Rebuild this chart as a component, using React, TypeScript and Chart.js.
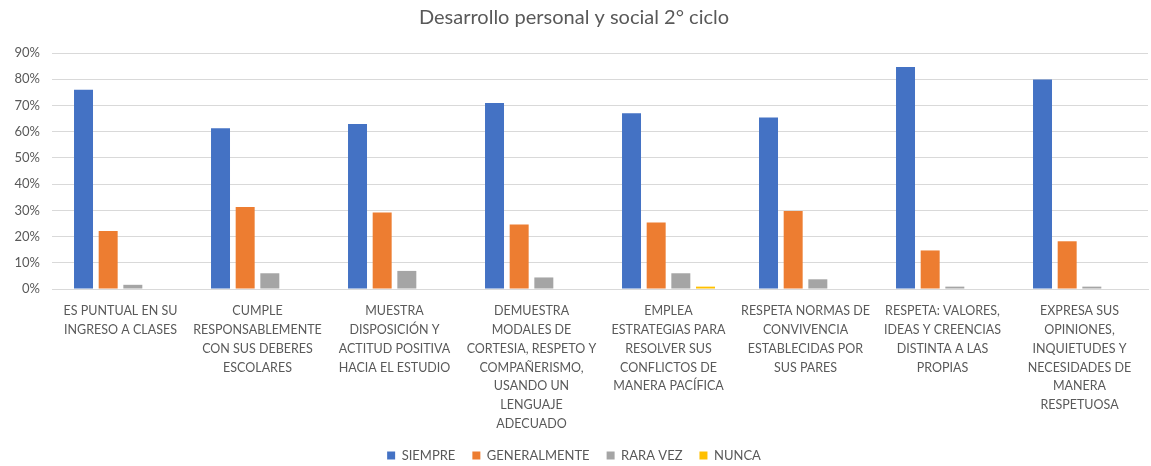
import React, { useEffect, useRef } from "react";
import { Chart, registerables } from "chart.js";

Chart.register(...registerables);

const title = "Desarrollo personal y social 2° ciclo";

const categories: string[][] = [
  ["ES PUNTUAL EN SU", "INGRESO A CLASES"],
  ["CUMPLE", "RESPONSABLEMENTE", "CON SUS DEBERES", "ESCOLARES"],
  ["MUESTRA", "DISPOSICIÓN Y", "ACTITUD POSITIVA", "HACIA EL ESTUDIO"],
  ["DEMUESTRA", "MODALES DE", "CORTESIA, RESPETO Y", "COMPAÑERISMO,", "USANDO UN", "LENGUAJE", "ADECUADO"],
  ["EMPLEA", "ESTRATEGIAS PARA", "RESOLVER SUS", "CONFLICTOS DE", "MANERA PACÍFICA"],
  ["RESPETA NORMAS DE", "CONVIVENCIA", "ESTABLECIDAS POR", "SUS PARES"],
  ["RESPETA: VALORES,", "IDEAS Y CREENCIAS", "DISTINTA A LAS", "PROPIAS"],
  ["EXPRESA SUS", "OPINIONES,", "INQUIETUDES Y", "NECESIDADES DE", "MANERA", "RESPETUOSA"],
];

const siempre = [0.76, 0.613, 0.629, 0.709, 0.67, 0.654, 0.847, 0.799];
const generalmente = [0.221, 0.313, 0.292, 0.246, 0.254, 0.297, 0.147, 0.182];
const raraVez = [0.016, 0.06, 0.069, 0.044, 0.06, 0.037, 0.009, 0.009];
const nunca = [0, 0, 0, 0, 0.009, 0, 0, 0];

const seriesNames = ["SIEMPRE", "GENERALMENTE", "RARA VEZ", "NUNCA"];
const seriesColors = ["#4472C4", "#ED7D31", "#A5A5A5", "#FFC000"];

const yMax = 0.9;
const yStep = 0.1;

const FONT = "Lato, 'Open Sans', sans-serif";
const TEXT = "#595959";

export default function App() {
  const ref = useRef<HTMLCanvasElement | null>(null);

  useEffect(() => {
    document.body.style.margin = "0";
    if (!ref.current) return;
    const values = [siempre, generalmente, raraVez, nunca];
    const chart = new Chart(ref.current, {
      type: "bar",
      data: {
        labels: categories,
        datasets: values.map((v, i) => ({
          label: seriesNames[i],
          data: v,
          backgroundColor: seriesColors[i],
          borderWidth: 0,
          categoryPercentage: 0.72,
          barPercentage: 0.77,
        })),
      },
      options: {
        animation: false,
        responsive: false,
        maintainAspectRatio: false,
        layout: { padding: { left: 0, right: 3, top: 0, bottom: -6 } },
        plugins: {
          title: {
            display: true,
            text: title,
            color: TEXT,
            font: { family: FONT, size: 20, weight: "normal" },
            padding: { top: 6, bottom: 23 },
          },
          legend: {
            position: "bottom",
            labels: {
              color: TEXT,
              font: { family: FONT, size: 13 },
              boxWidth: 8,
              boxHeight: 8,
              padding: 17,
            },
          },
          tooltip: { enabled: false },
        },
        scales: {
          x: {
            grid: { display: false },
            border: { display: true, color: "#D9D9D9", width: 1 },
            ticks: {
              color: TEXT,
              font: { family: FONT, size: 12.5, lineHeight: 1.5 },
              maxRotation: 0,
              minRotation: 0,
              autoSkip: false,
              padding: 5,
            },
            afterFit: (scale: any) => {
              scale.height = 143;
            },
          },
          y: {
            min: 0,
            max: yMax,
            grid: { color: "#D9D9D9", drawTicks: false, lineWidth: 1 },
            border: { display: false },
            ticks: {
              stepSize: yStep,
              color: TEXT,
              font: { family: FONT, size: 13 },
              padding: 12,
              callback: (v: any) => Math.round(Number(v) * 100) + "%",
            },
            afterFit: (scale: any) => {
              scale.width = 52;
            },
          },
        },
      },
    });
    return () => chart.destroy();
  }, []);

  return (
    <div style={{ width: 1151, height: 466, background: "#fff" }}>
      <canvas ref={ref} width={1151} height={466} style={{ display: "block" }} />
    </div>
  );
}
